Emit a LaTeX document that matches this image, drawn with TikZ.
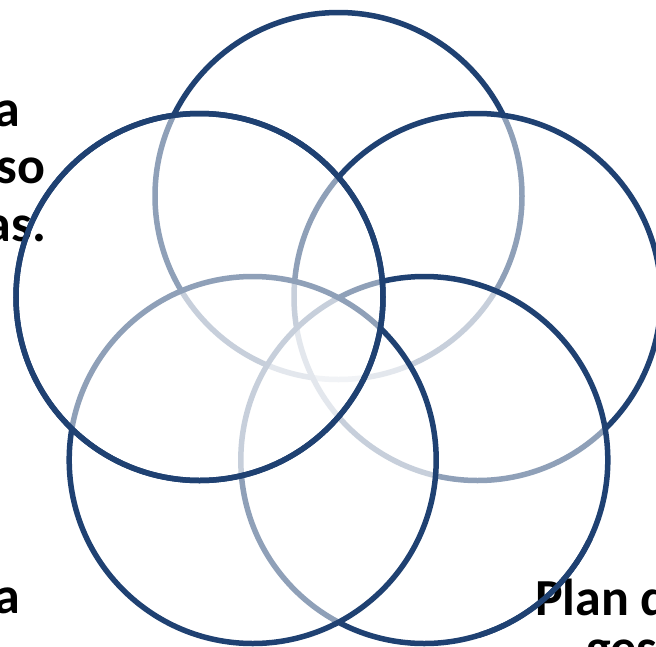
\documentclass[tikz,border=0pt]{standalone}
\usepackage{fontspec}
\setmainfont{Carlito}
\definecolor{ringblue}{RGB}{31,65,114}
\begin{document}
\begin{tikzpicture}[x=1pt,y=-1pt,
  ring/.style={draw=ringblue, line width=5.5pt, fill=white, fill opacity=0.5},
  ringline/.style={draw=ringblue, line width=5.5pt},
  lbl/.style={font=\fontsize{52}{58}\selectfont\bfseries, text=black, inner sep=0pt, outer sep=0pt}]
\useasboundingbox (0,0) rectangle (656,646);
\clip (0,0) rectangle (656,646);
% pentagon of circle centres
\coordinate (ct) at (338.5,196);
\coordinate (cr) at (477.5,297);
\coordinate (cbr) at (424.3,460);
\coordinate (cbl) at (252.7,460);
\coordinate (cl) at (199.5,297);
% circles, drawn in order top, right, bottom-right, bottom-left, left
\path[ring] (ct) circle[radius=183.5pt];
\path[ring] (cr) circle[radius=183.5pt];
\path[ring] (cbr) circle[radius=183.5pt];
\path[ring] (cbl) circle[radius=183.5pt];
\path[ring] (cl) circle[radius=183.5pt];
% texts
\node[lbl, anchor=base east] (t1) at (20,126) {a};
\node[lbl, anchor=base east] (t2) at (45,183) {so};
\node[lbl, anchor=base east] (t3) at (46,241) {as.};
\node[lbl, anchor=base east] (t4) at (20,613) {a};
\node[lbl, anchor=base west] (t5) at (535,615) {Plan d};
\node[lbl, anchor=base west] (t6) at (586,665) {gest};
% strokes that cross the texts
\path[ringline] (cl) circle[radius=183.5pt];
\begin{scope}
  \clip (480,540) rectangle (656,646);
  \path[ringline] (cbr) circle[radius=183.5pt];
\end{scope}
\end{tikzpicture}
\end{document}
